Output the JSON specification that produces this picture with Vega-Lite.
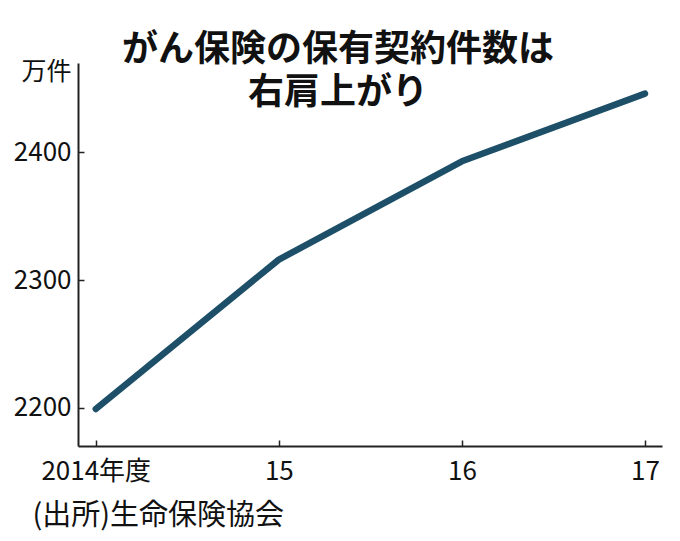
{
  "$schema": "https://vega.github.io/schema/vega-lite/v6.json",
  "autosize": "none",
  "width": 584,
  "height": 383,
  "padding": {"left": 78, "top": 63, "right": 18, "bottom": 95},
  "background": "white",
  "data": {"values": [
    {"year": 2014, "count": 2199},
    {"year": 2015, "count": 2316},
    {"year": 2016, "count": 2393},
    {"year": 2017, "count": 2446}
  ]},
  "title": {
    "text": ["がん保険の保有契約件数は", "右肩上がり"],
    "font": "Noto Sans CJK JP",
    "fontSize": 36,
    "fontWeight": "bold",
    "color": "#111111",
    "anchor": "middle",
    "lineHeight": 43,
    "dx": -32,
    "offset": -53
  },
  "mark": {"type": "line", "color": "#1d5068", "strokeWidth": 6.5, "strokeCap": "round", "strokeJoin": "round"},
  "encoding": {
    "x": {
      "field": "year", "type": "quantitative",
      "scale": {"domain": [2013.903, 2017.093], "nice": false, "zero": false},
      "axis": {
        "values": [2014, 2015, 2016, 2017],
        "labelExpr": "datum.value == 2014 ? '2014年度' : slice(toString(datum.value), 2)",
        "grid": false,
        "tickSize": -6,
        "labelPadding": 18,
        "labelBaseline": "top",
        "labelFont": "Noto Sans CJK JP",
        "labelFontSize": 26,
        "labelColor": "#111111",
        "domainColor": "#222222",
        "tickColor": "#222222",
        "domainWidth": 2,
        "tickWidth": 1.5,
        "title": "(出所)生命保険協会",
        "titleFont": "Noto Sans CJK JP",
        "titleFontSize": 29,
        "titleFontWeight": "normal",
        "titleColor": "#111111",
        "titleAnchor": "start",
        "titleAlign": "left",
        "titleBaseline": "alphabetic",
        "titleX": -46,
        "titleY": 78
      }
    },
    "y": {
      "field": "count", "type": "quantitative",
      "scale": {"domain": [2170, 2470], "nice": false, "zero": false},
      "axis": {
        "values": [2200, 2300, 2400],
        "format": "d",
        "grid": false,
        "tickSize": -6,
        "labelPadding": 13,
        "labelFont": "Noto Sans CJK JP",
        "labelFontSize": 26,
        "labelColor": "#111111",
        "domainColor": "#222222",
        "tickColor": "#222222",
        "domainWidth": 2,
        "tickWidth": 1.5,
        "title": "万件",
        "titleFont": "Noto Sans CJK JP",
        "titleFontSize": 25,
        "titleFontWeight": "normal",
        "titleColor": "#111111",
        "titleAngle": 0,
        "titleAlign": "right",
        "titleBaseline": "alphabetic",
        "titleX": -7,
        "titleY": 16
      }
    }
  },
  "config": {"view": {"stroke": null}}
}
